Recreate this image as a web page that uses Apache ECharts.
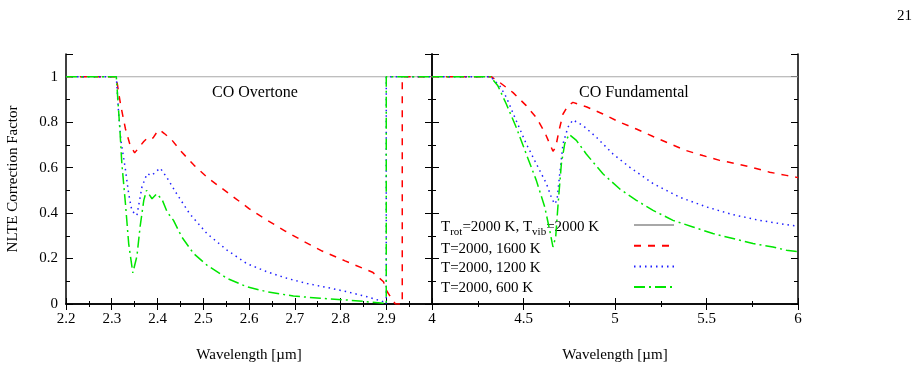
<!DOCTYPE html>
<html>
<head>
<meta charset="utf-8">
<script src="https://cdn.jsdelivr.net/npm/echarts@6/dist/echarts.min.js"></script>
<style>
  html, body { margin: 0; padding: 0; background: #fff; }
  #chart { width: 924px; height: 371px; }
</style>
</head>
<body>
<div id="chart"></div>
<script>
// series names (legend)
const seriesNames = ['T_rot=2000 K, T_vib=2000 K', 'T=2000, 1600 K', 'T=2000, 1200 K', 'T=2000, 600 K']

// CO overtone panel, [wavelength, factor]
const overtoneLTE = [[2.2, 1], [3.0, 1]]
const overtone1600 = [[2.2, 1], [2.31, 1], [2.315, 0.93], [2.32, 0.87], [2.33, 0.77], [2.34, 0.70], [2.35, 0.665],
  [2.36, 0.69], [2.37, 0.715], [2.38, 0.735], [2.39, 0.73], [2.40, 0.76], [2.405, 0.766], [2.415, 0.75],
  [2.43, 0.725], [2.45, 0.675], [2.48, 0.61], [2.51, 0.555], [2.54, 0.51], [2.57, 0.465], [2.60, 0.42],
  [2.64, 0.368], [2.68, 0.32], [2.72, 0.275], [2.76, 0.233], [2.81, 0.19], [2.85, 0.156], [2.87, 0.14],
  [2.894, 0.098], [2.90, 0.061], [2.909, 0.032], [2.92, 0], [2.935, 0], [2.935, 1], [3.0, 1]]
const overtone1200 = [[2.2, 1], [2.31, 1], [2.315, 0.84], [2.32, 0.72], [2.33, 0.59], [2.337, 0.485], [2.344, 0.41],
  [2.355, 0.39], [2.366, 0.515], [2.377, 0.573], [2.388, 0.566], [2.395, 0.58], [2.406, 0.598], [2.42, 0.558],
  [2.442, 0.485], [2.47, 0.398], [2.508, 0.31], [2.552, 0.237], [2.595, 0.178], [2.639, 0.142], [2.683, 0.113],
  [2.727, 0.09], [2.77, 0.073], [2.814, 0.054], [2.858, 0.032], [2.894, 0.01], [2.9, 0], [2.9, 1], [3.0, 1]]
const overtone600 = [[2.2, 1], [2.31, 1], [2.313, 0.91], [2.318, 0.76], [2.322, 0.62], [2.33, 0.44], [2.337, 0.266],
  [2.346, 0.137], [2.355, 0.21], [2.362, 0.34], [2.37, 0.456], [2.376, 0.5], [2.388, 0.463], [2.398, 0.485],
  [2.41, 0.46], [2.421, 0.405], [2.435, 0.368], [2.453, 0.295], [2.479, 0.222], [2.508, 0.171], [2.552, 0.113],
  [2.595, 0.076], [2.639, 0.054], [2.697, 0.035], [2.756, 0.025], [2.814, 0.0175], [2.858, 0.01], [2.894, 0.003],
  [2.9, 0], [2.9, 1], [3.0, 1]]

// CO fundamental panel
const fundLTE = [[4, 1], [6, 1]]
const fund1600 = [[4, 1], [4.324, 1], [4.37, 0.975], [4.443, 0.93], [4.515, 0.873], [4.57, 0.82], [4.616, 0.756],
  [4.643, 0.705], [4.661, 0.672], [4.676, 0.69], [4.694, 0.763], [4.716, 0.836], [4.743, 0.873], [4.77, 0.887],
  [4.843, 0.868], [4.934, 0.836], [5.025, 0.8], [5.117, 0.77], [5.208, 0.737], [5.3, 0.705], [5.39, 0.675],
  [5.48, 0.653], [5.572, 0.632], [5.663, 0.617], [5.754, 0.6], [5.845, 0.58], [5.936, 0.566], [6, 0.556]]
const fund1200 = [[4, 1], [4.32, 1], [4.37, 0.96], [4.406, 0.91], [4.46, 0.807], [4.515, 0.705], [4.57, 0.617],
  [4.625, 0.53], [4.652, 0.47], [4.67, 0.44], [4.683, 0.456], [4.698, 0.573], [4.716, 0.705], [4.743, 0.778],
  [4.77, 0.81], [4.825, 0.785], [4.898, 0.734], [4.989, 0.66], [5.08, 0.602], [5.208, 0.53], [5.353, 0.47],
  [5.5, 0.427], [5.645, 0.393], [5.79, 0.368], [5.936, 0.349], [6, 0.342]]
const fund600 = [[4, 1], [4.32, 1], [4.36, 0.96], [4.406, 0.88], [4.46, 0.778], [4.515, 0.66], [4.57, 0.544],
  [4.616, 0.427], [4.643, 0.325], [4.661, 0.251], [4.676, 0.295], [4.689, 0.44], [4.707, 0.617], [4.725, 0.705],
  [4.749, 0.746], [4.789, 0.72], [4.843, 0.66], [4.934, 0.573], [5.025, 0.507], [5.117, 0.456], [5.208, 0.412],
  [5.317, 0.368], [5.426, 0.339], [5.535, 0.31], [5.645, 0.288], [5.754, 0.266], [5.863, 0.251], [5.936, 0.237],
  [6, 0.23]]

const font = 'Liberation Serif'

const myChart = echarts.init(document.getElementById('chart'))

// line looks per series
const looks = [
  { color: '#a8a8a8', type: 'solid' },
  { color: '#ff0000', type: [7, 7] },
  { color: '#2020ff', type: [1.5, 4] },
  { color: '#00e600', type: [11, 4, 2, 4] }
]

const mkSeries = (i, data, panel) => ({
  name: seriesNames[i],
  type: 'line',
  xAxisIndex: panel * 2,
  yAxisIndex: panel * 2,
  data: data,
  symbol: 'none',
  silent: true,
  lineStyle: { color: looks[i].color, type: looks[i].type, width: i === 0 ? 1.2 : 1.5 },
  itemStyle: { color: looks[i].color },
  z: 2 + i
})

// x axes: bottom with labels, top mirror
const xAx = (grid, min, max, interval, pos, labels) => ({
  type: 'value',
  gridIndex: grid,
  position: pos,
  min: min,
  max: max,
  interval: interval,
  axisLine: { lineStyle: { color: '#000', width: 1.5 } },
  axisTick: { inside: true, length: 6, lineStyle: { color: '#000' } },
  minorTick: { show: true, splitNumber: 2, length: 3, lineStyle: { color: '#000' } },
  splitLine: { show: false },
  axisLabel: {
    show: labels,
    margin: 8,
    fontFamily: font,
    fontSize: 15,
    color: '#000',
    // the left panel's 3.0 is where the "4" of the right panel sits
    formatter: (v) => (grid === 0 && v > 2.95) ? '' : (grid === 0 ? v.toFixed(1) : String(v))
  },
  name: labels ? 'Wavelength [µm]' : '',
  nameLocation: 'middle',
  nameGap: 44,
  nameTextStyle: { fontFamily: font, fontSize: 15, color: '#000' }
})

const yAx = (grid, pos, labels) => ({
  type: 'value',
  gridIndex: grid,
  position: pos,
  min: 0,
  max: 1.1,
  interval: 0.2,
  axisLine: { show: true, lineStyle: { color: '#000', width: 1.5 } },
  axisTick: { show: true, inside: true, length: 7, lineStyle: { color: '#000' } },
  minorTick: { show: true, splitNumber: 2, length: 4, lineStyle: { color: '#000' } },
  splitLine: { show: false },
  axisLabel: {
    show: labels,
    margin: 8,
    fontFamily: font,
    fontSize: 15,
    color: '#000',
    formatter: (v) => v > 1.05 ? '' : String(Math.round(v * 10) / 10)
  },
  name: labels ? 'NLTE Correction Factor' : '',
  nameLocation: 'middle',
  nameGap: 45,
  nameTextStyle: { fontFamily: font, fontSize: 15, color: '#000' }
})

const titleStyle = (size) => ({ fontFamily: font, fontSize: size, fontWeight: 'normal', color: '#000' })

const option = {
  animation: false,
  textStyle: { fontFamily: font },
  title: [
    { text: '21', right: 12, top: 9, padding: 0, textStyle: titleStyle(15) },
    { text: 'CO Overtone', left: 212, top: 85, padding: 0, textStyle: titleStyle(16) },
    { text: 'CO Fundamental', left: 579, top: 85, padding: 0, textStyle: titleStyle(16) }
  ],
  grid: [
    { left: 66, top: 54, width: 366, height: 250 },
    { left: 432, top: 54, width: 366, height: 250 }
  ],
  // text column of the key, samples drawn by a second legend on the right
  legend: [
    {
      orient: 'vertical',
      left: 436,
      top: 220,
      padding: 0,
      itemWidth: 0,
      itemHeight: 0,
      itemGap: 4.2,
      icon: 'rect',
      itemStyle: { opacity: 0 },
      selectedMode: false,
      data: seriesNames,
      formatter: (name) => name === seriesNames[0]
        ? '{n|T}{s|rot}{n|=2000 K, T}{s|vib}{n|=2000 K}'
        : '{n|' + name + '}',
      textStyle: {
        color: '#000',
        rich: {
          n: { fontFamily: font, fontSize: 15, lineHeight: 20, color: '#000', align: 'left' },
          s: { fontFamily: font, fontSize: 11, lineHeight: 11, color: '#000', verticalAlign: 'bottom', align: 'left' }
        }
      }
    },
    {
      orient: 'vertical',
      left: 633,
      top: 215,
      padding: 0,
      itemWidth: 40,
      itemHeight: 20,
      itemGap: 2.7,
      selectedMode: false,
      itemStyle: { opacity: 0 },
      data: seriesNames,
      formatter: () => '',
      textStyle: { fontSize: 15 }
    }
  ],
  xAxis: [
    xAx(0, 2.2, 3.0, 0.1, 'bottom', true),
    xAx(0, 2.2, 3.0, 0.1, 'top', false),
    xAx(1, 4, 6, 0.5, 'bottom', true),
    xAx(1, 4, 6, 0.5, 'top', false)
  ],
  yAxis: [
    yAx(0, 'left', true),
    yAx(0, 'right', false),
    yAx(1, 'left', false),
    yAx(1, 'right', false)
  ],
  series: [
    mkSeries(0, overtoneLTE, 0),
    mkSeries(1, overtone1600, 0),
    mkSeries(2, overtone1200, 0),
    mkSeries(3, overtone600, 0),
    mkSeries(0, fundLTE, 1),
    mkSeries(1, fund1600, 1),
    mkSeries(2, fund1200, 1),
    mkSeries(3, fund600, 1)
  ]
}

myChart.setOption(option)
</script>
</body>
</html>
